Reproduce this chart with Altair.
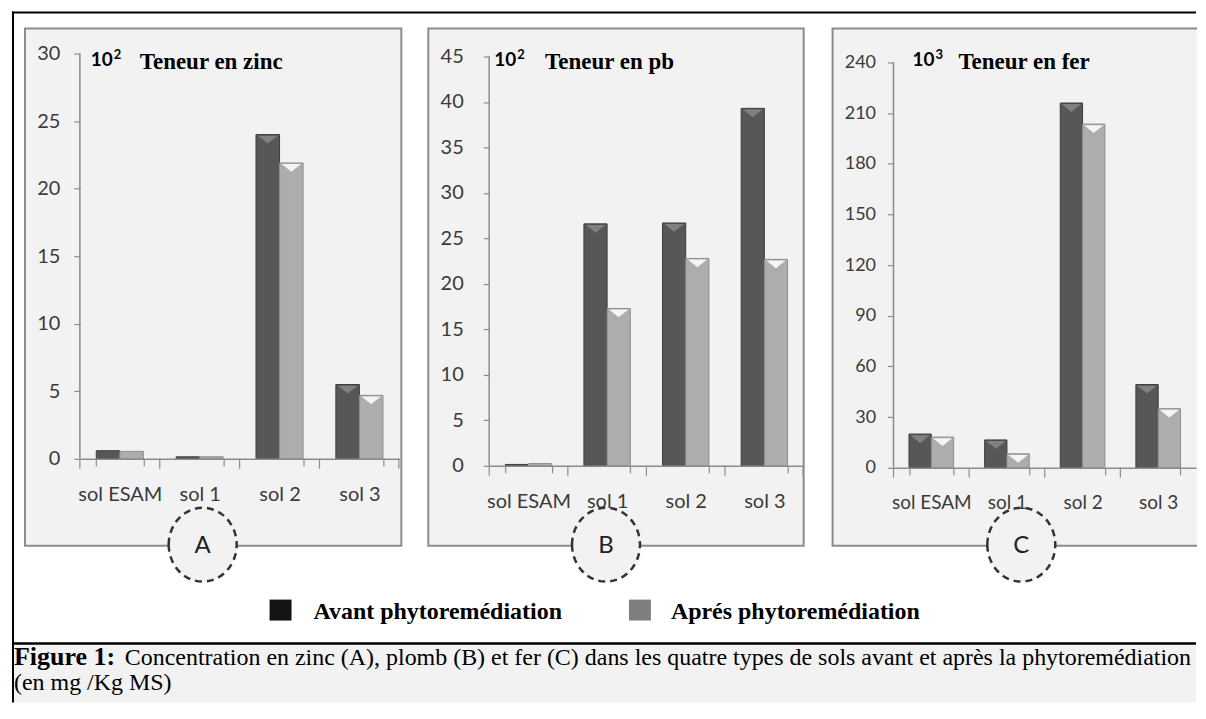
import altair as alt
import pandas as pd

# ---------------- data ----------------
soils = ["sol ESAM", "sol 1", "sol 2", "sol 3"]
phases = ["Avant phytoremédiation", "Aprés phytoremédiation"]

zinc_avant = [0.6, 0.15, 24.0, 5.5]
zinc_apres = [0.55, 0.15, 21.9, 4.7]
plomb_avant = [0.15, 26.6, 26.7, 39.3]
plomb_apres = [0.25, 17.3, 22.8, 22.7]
fer_avant = [20.0, 16.5, 216.0, 49.3]
fer_apres = [18.2, 8.3, 203.5, 35.0]

zinc_ticks = [0, 5, 10, 15, 20, 25, 30]
plomb_ticks = [0, 5, 10, 15, 20, 25, 30, 35, 40, 45]
fer_ticks = [0, 30, 60, 90, 120, 150, 180, 210, 240]

panel_titles = ["Teneur en zinc", "Teneur en pb", "Teneur en fer"]
panel_base = "10"
panel_powers = ["2", "2", "3"]
panel_letters = ["A", "B", "C"]
caption_bold = "Figure 1:"
caption_line1 = ("Concentration en zinc (A), plomb (B) et fer (C) dans les quatre types "
                 "de sols avant et après la phytoremédiation")
caption_line2 = "(en mg /Kg MS)"

# ---------------- style ----------------
SANS = "Lato"
SERIF = "Liberation Serif"
AX = "#8c8c8c"
LAB = "#3a3a3a"
PANEL = "#f2f2f2"
DARK, DARK_E, DARK_T = "#575757", "#3d3d3d", "#808080"
LIGHT, LIGHT_E, LIGHT_T = "#adadad", "#8e8e8e", "#f4f4f4"
TRI = "M -1 -0.45 L 1 -0.45 L 0 0.35 Z"
ELLIPSE = "M -0.92 0 A 0.92 1 0 1 1 0.92 0 A 0.92 1 0 1 1 -0.92 0 Z"


def table(avant, apres):
    rows = []
    for s, a, b in zip(soils, avant, apres):
        rows.append({"soil": s, "phase": phases[0], "value": a})
        rows.append({"soil": s, "phase": phases[1], "value": b})
    return pd.DataFrame(rows)


def one():
    return alt.Chart(pd.DataFrame({"k": [0]}))


def txt(s, **kw):
    return alt.Chart(pd.DataFrame({"t": [s]})).mark_text(**kw).encode(text="t:N")


def rect(x1, x2, y1, y2, **kw):
    return one().mark_rect(**kw).encode(
        x=alt.value(x1), x2=alt.value(x2), y=alt.value(y1), y2=alt.value(y2))


def hrule(x1, x2, y, **kw):
    return one().mark_rule(**kw).encode(x=alt.value(x1), x2=alt.value(x2), y=alt.value(y))


def vrule(x, y1, y2, **kw):
    return one().mark_rule(**kw).encode(x=alt.value(x), y=alt.value(y1), y2=alt.value(y2))


def panel(avant, apres, w, h, ymax, ticks, lpad, ysize, xsize, thr,
          power, title, exp_x, title_x, box, circ, letter, pre=(), open_right=False):
    df = table(avant, apres)
    base = alt.Chart(df)
    isav = alt.datum.phase == phases[0]
    xoff = alt.XOffset("phase:N", sort=phases, scale=alt.Scale(paddingInner=0, paddingOuter=0))
    xscale = alt.Scale(paddingInner=0.41, paddingOuter=0.205)
    xaxis = alt.Axis(labelAngle=0, labelFont=SANS, labelFontSize=xsize, labelColor=LAB,
                     labelPadding=19, labelOverlap=False, domainColor=AX, domainWidth=1.5,
                     ticks=True, tickColor=AX, tickWidth=1.2, tickSize=7, tickBand="extent",
                     zindex=1)
    yaxis = alt.Axis(values=ticks, grid=False, domain=False, labelFont=SANS,
                     labelFontSize=ysize, labelColor=LAB, labelPadding=lpad,
                     labelOverlap=False, ticks=True, tickColor=AX, tickWidth=1.2, tickSize=6,
                     zindex=1)
    yscale = alt.Scale(domain=[0, ymax], nice=False, zero=True)

    if open_right:
        box_l = [rect(box[0], box[1], box[2], box[3], fill=PANEL),
                 hrule(box[0] - 1, box[1], box[2], color=AX, strokeWidth=2),
                 hrule(box[0] - 1, box[1], box[3], color=AX, strokeWidth=2),
                 vrule(box[0], box[2], box[3], color=AX, strokeWidth=2)]
    else:
        box_l = [rect(box[0], box[1], box[2], box[3], fill=PANEL, stroke=AX, strokeWidth=2)]

    # category boundary ticks under the x axis
    step = w / len(soils)
    xticks = [vrule(round(k * step, 1), h, h + 10, color=AX, strokeWidth=1.2)
              for k in range(len(soils) + 1) if k * step <= w - 4] + \
             ([vrule(w - 0.5, h, h + 10, color=AX, strokeWidth=1.2)] if not open_right else [])

    yline = alt.Chart(pd.DataFrame({"value": [0], "top": [ticks[-1]]})).mark_rule(
        color=AX, strokeWidth=1.5).encode(
        x=alt.value(0), y=alt.Y("value:Q", title=None, scale=yscale, axis=yaxis), y2="top:Q")
    bars = base.mark_bar(strokeWidth=1).encode(
        x=alt.X("soil:N", sort=soils, title=None, scale=xscale, axis=xaxis), xOffset=xoff,
        y=alt.Y("value:Q", title=None, scale=yscale, axis=yaxis),
        fill=alt.condition(isav, alt.value(DARK), alt.value(LIGHT)),
        stroke=alt.condition(isav, alt.value(DARK_E), alt.value(LIGHT_E)))
    tris = base.transform_filter(alt.datum.value >= thr).mark_point(
        shape=TRI, size=380, filled=True, yOffset=5.5, strokeWidth=0, opacity=1).encode(
        x=alt.X("soil:N", sort=soils, title=None, scale=xscale, axis=xaxis), xOffset=xoff,
        y=alt.Y("value:Q", title=None, scale=yscale, axis=yaxis),
        fill=alt.condition(isav, alt.value(DARK_T), alt.value(LIGHT_T)))
    t_base = txt(panel_base, x=exp_x, y=13, font=SANS, fontSize=19, fontWeight="bold",
                 color="black", align="left", baseline="alphabetic")
    t_pow = txt(power, x=exp_x + 23, y=5, font=SANS, fontSize=13, fontWeight="bold",
                color="black", align="left", baseline="alphabetic")
    t_title = txt(title, x=title_x, y=16, font=SERIF, fontSize=23, fontWeight="bold",
                  color="black", align="left", baseline="alphabetic")
    circle = one().mark_point(shape=ELLIPSE, size=5476, filled=True, fill=PANEL, stroke="#333333",
                              strokeWidth=2.5, strokeDash=[7, 5], opacity=1, fillOpacity=1).encode(
        x=alt.value(circ[0]), y=alt.value(circ[1]))
    t_letter = txt(letter, x=circ[0], y=circ[1] + 1, font=SANS, fontSize=24, color="#222222",
                   align="center", baseline="middle")
    layers = list(pre) + box_l + xticks + [yline, bars, tris, t_base, t_pow, t_title,
                                           circle, t_letter]
    return alt.layer(*layers).properties(width=w, height=h)


# decorations drawn with panel A (coordinates relative to panel A's plot area)
frame = [
    rect(-67, 1118, 591, 650, fill=PANEL),
    hrule(-68, 1118, -41, color="black", strokeWidth=2),
    vrule(-67, -42, 650, color="black", strokeWidth=2),
    hrule(-68, 1118, 591, color="black", strokeWidth=2.5),
    rect(190, 212, 547, 568, fill="#141414"),
    txt(phases[0], x=234, y=566, font=SERIF, fontSize=24, fontWeight="bold",
        color="black", align="left", baseline="alphabetic"),
    rect(550, 572, 547, 568, fill="#7f7f7f"),
    txt(phases[1], x=592, y=566, font=SERIF, fontSize=24, fontWeight="bold",
        color="black", align="left", baseline="alphabetic"),
    txt(caption_bold, x=-66, y=613, font=SERIF, fontSize=26, fontWeight="bold",
        color="black", align="left", baseline="alphabetic"),
    txt(caption_line1, x=45, y=613, font=SERIF, fontSize=24,
        color="black", align="left", baseline="alphabetic"),
    txt(caption_line2, x=-66, y=638, font=SERIF, fontSize=24,
        color="black", align="left", baseline="alphabetic"),
]

pA = panel(zinc_avant, zinc_apres, 320, 406, 30, zinc_ticks, 14, 20, 20, 1.0,
           panel_powers[0], panel_titles[0], 11, 60,
           (-55, 322, -25, 493), (123, 492), panel_letters[0], pre=frame)
pB = panel(plomb_avant, plomb_apres, 315, 413, 45.33, plomb_ticks, 20, 20, 20, 1.0,
           panel_powers[1], panel_titles[1], 5, 56,
           (-61, 315, -25, 493), (117, 492), panel_letters[1])
pC = panel(fer_avant, fer_apres, 303, 415, 245.3, fer_ticks, 12, 18, 19, 6.0,
           panel_powers[2], panel_titles[2], 19, 65,
           (-61, 304, -25, 493), (128, 492), panel_letters[2], open_right=True)

chart = alt.hconcat(pA, pB, pC, spacing=90, bounds="flush").resolve_scale(
    x="independent", y="independent", xOffset="independent"
).properties(
    padding={"left": 2, "top": 2, "right": 0, "bottom": 0},
    background="white",
).configure_view(stroke=None)

chart.save("out.html", embed_options={"renderer": "svg", "actions": False})
